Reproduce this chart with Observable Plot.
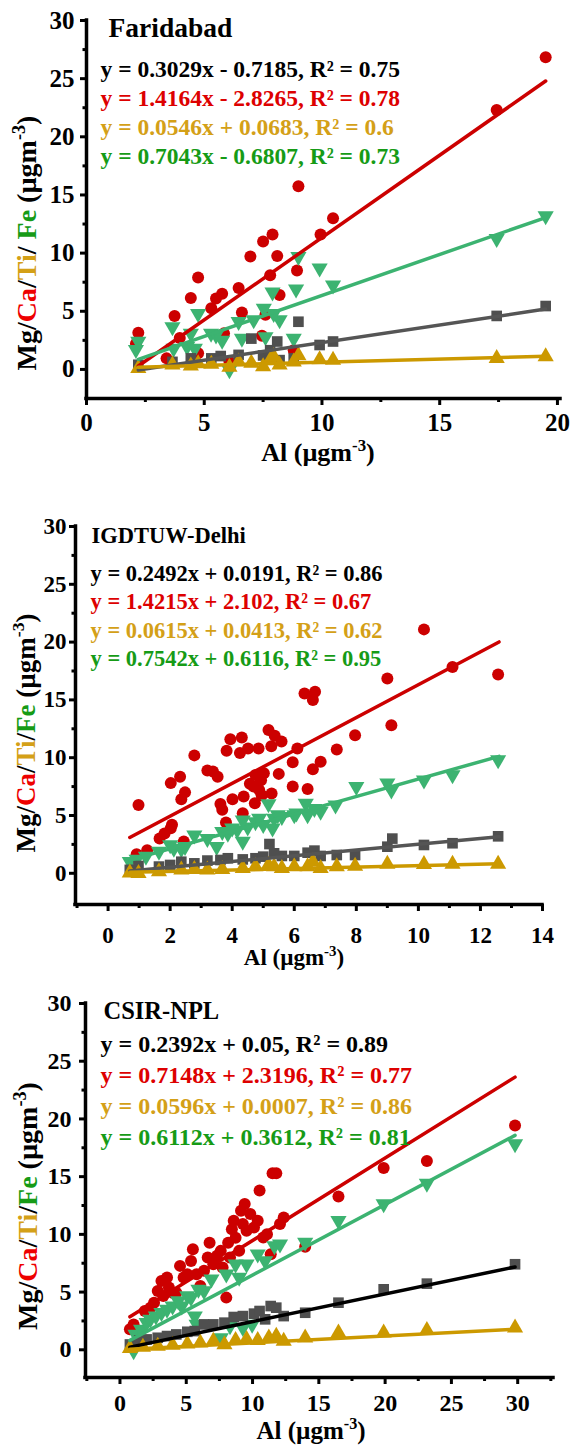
<!DOCTYPE html>
<html><head><meta charset="utf-8">
<script src="https://cdn.jsdelivr.net/npm/d3@7"></script>
<script src="https://cdn.jsdelivr.net/npm/@observablehq/plot@0.6"></script>
<style>
body{margin:0;background:#fff;}
#chart svg{display:block;}
</style></head><body><div id="chart"></div>
<script>
// ---------- colours ----------
const markerColors = {Mg: "#4f4f4f", Ca: "#cc0000", Ti: "#cc9900", Fe: "#3cb371"};
const eqColors = ["#000000", "#dd0000", "#d4a017", "#169b16"];

// ---------- Faridabad ----------
const faridabadCa = [[2.2,3.15],[2.1,2.2],[3.4,0.95],[3.74,4.6],[3.96,2.7],[4.43,6.15],[4.74,7.9],[4.74,1.4],[5.3,5.25],[5.5,6.1],[5.76,6.5],[5.84,3.1],[6.07,0.65],[6.46,7.0],[6.6,4.9],[6.96,9.7],[7.5,11.0],[7.45,2.9],[7.8,8.1],[7.9,11.6],[7.6,4.7],[8.1,9.75],[8.2,6.4],[8.94,8.5],[8.8,1.65],[9.0,15.75],[9.94,11.6],[10.47,13.0],[17.42,22.3],[19.5,26.85]];
const faridabadFe = [[2.2,2.4],[2.1,1.7],[3.65,3.65],[3.7,1.8],[4.43,3.1],[4.27,1.95],[4.74,4.8],[4.6,1.8],[5.29,3.1],[5.5,2.95],[5.76,2.5],[6.07,-0.05],[6.46,4.1],[6.6,2.66],[7.1,4.25],[7.53,5.25],[7.6,2.8],[7.9,6.65],[8.2,4.25],[7.95,4.8],[8.8,2.66],[8.9,6.9],[9.0,9.7],[9.9,8.7],[10.47,7.25],[17.42,11.25],[19.5,13.2]];
const faridabadMg = [[2.2,0.4],[3.65,0.65],[4.43,0.95],[5.3,0.95],[5.7,1.15],[6.46,1.25],[7.0,2.65],[7.5,1.2],[7.8,1.65],[8.1,2.4],[8.2,0.8],[9.0,4.1],[8.8,0.95],[9.9,2.1],[10.47,2.4],[17.42,4.6],[19.5,5.45]];
const faridabadTi = [[2.2,0.1],[3.65,0.4],[4.43,0.3],[4.74,0.5],[5.3,0.45],[6.07,0.2],[6.46,0.65],[7.0,0.55],[7.5,0.25],[7.8,0.8],[7.95,1.1],[8.2,0.4],[8.8,0.65],[9.0,1.2],[9.9,0.85],[10.47,0.8],[17.42,0.95],[19.5,1.1]];
const faridabadSlopes = [0.3029, 1.4164, 0.0546, 0.7043];
const faridabadIntercepts = [-0.7185, -2.8265, 0.0683, -0.6807];
const faridabadFitRange = [2.2, 19.5];
const faridabadEquations = ["y = 0.3029x - 0.7185, R² = 0.75","y = 1.4164x - 2.8265, R² = 0.78","y = 0.0546x + 0.0683, R² = 0.6","y = 0.7043x - 0.6807, R² = 0.73"];

// ---------- IGDTUW-Delhi ----------
const delhiCa = [[0.98,5.9],[0.92,1.64],[1.26,2.0],[1.66,3.0],[1.82,3.45],[2.02,3.9],[2.06,4.2],[2.02,7.8],[2.32,8.35],[2.36,6.4],[2.48,7.0],[2.44,2.74],[2.78,10.2],[3.2,8.9],[3.38,8.8],[3.53,8.35],[3.62,6.0],[3.68,5.5],[3.8,4.4],[3.82,10.6],[3.94,11.6],[4.01,6.4],[4.25,10.4],[4.31,11.75],[4.34,5.2],[4.37,6.65],[4.51,10.8],[4.57,7.75],[4.69,7.5],[4.73,6.05],[4.75,8.5],[4.85,10.8],[4.87,7.2],[4.93,8.05],[5.02,8.65],[4.95,6.75],[5.17,12.4],[5.26,11.0],[5.27,6.9],[5.37,11.9],[5.5,8.6],[5.59,11.4],[5.95,7.5],[5.95,9.6],[6.1,10.8],[6.33,15.55],[6.43,7.3],[6.6,9.0],[6.6,15.0],[6.67,15.7],[6.85,9.65],[7.37,10.7],[7.96,11.95],[9.0,16.85],[9.13,12.8],[10.18,21.1],[11.1,17.85],[12.57,17.2]];
const delhiFe = [[0.7,1.0],[0.92,1.2],[1.22,1.45],[1.64,1.9],[2.0,2.45],[2.12,2.15],[2.36,2.1],[2.48,2.3],[2.78,3.3],[3.2,3.0],[3.5,2.3],[3.68,3.6],[3.86,3.45],[4.0,3.9],[4.16,3.75],[4.34,4.6],[4.34,2.75],[4.5,4.0],[4.75,4.45],[4.87,4.75],[5.0,4.2],[5.17,6.0],[5.3,3.9],[5.35,4.75],[5.47,5.05],[5.6,4.9],[6.0,5.05],[6.07,5.2],[6.37,6.05],[6.43,5.05],[6.65,5.6],[6.85,5.35],[7.33,5.9],[8.0,7.5],[9.0,7.8],[9.13,7.2],[10.18,8.05],[11.1,8.5],[12.57,9.8]];
const delhiMg = [[0.7,0.3],[0.98,0.63],[1.64,0.58],[2.0,0.72],[2.36,1.0],[2.78,0.86],[3.2,1.1],[3.62,1.15],[3.86,1.3],[4.34,1.2],[4.75,1.3],[5.0,1.44],[5.2,2.53],[5.35,1.73],[5.6,1.5],[6.0,1.5],[6.43,1.78],[6.65,1.96],[6.85,1.5],[7.37,1.58],[7.96,1.58],[9.0,2.3],[9.16,3.0],[10.18,2.45],[11.1,2.6],[12.57,3.2]];
const delhiTi = [[0.7,0.05],[0.98,0.0],[1.64,0.15],[2.36,0.3],[2.78,0.35],[3.2,0.3],[3.68,0.35],[4.34,0.43],[4.75,0.58],[5.17,0.72],[5.35,0.58],[5.6,0.43],[6.0,0.58],[6.43,0.58],[6.6,1.0],[6.85,0.43],[7.37,0.58],[7.96,0.63],[9.0,0.8],[10.18,0.78],[11.1,0.8],[12.57,0.8]];
const delhiSlopes = [0.2492, 1.4215, 0.0615, 0.7542];
const delhiIntercepts = [0.0191, 2.102, 0.0413, 0.6116];
const delhiFitRange = [0.7, 12.6];
const delhiEquations = ["y = 0.2492x + 0.0191, R² = 0.86","y = 1.4215x + 2.102, R² = 0.67","y = 0.0615x + 0.0413, R² = 0.62","y = 0.7542x + 0.6116, R² = 0.95"];

// ---------- CSIR-NPL ----------
const nplCa = [[0.75,1.77],[1.03,2.2],[1.87,3.36],[2.3,3.65],[2.57,4.08],[2.85,5.1],[3.13,5.97],[3.27,4.66],[3.55,6.26],[3.69,5.39],[3.97,4.95],[4.25,4.95],[4.53,7.27],[4.8,6.26],[5.08,6.55],[5.36,7.7],[5.5,8.72],[5.78,6.55],[6.06,5.53],[6.34,6.84],[6.62,8.0],[6.76,9.27],[7.04,7.42],[7.32,8.14],[7.6,8.57],[7.74,7.12],[8.02,4.52],[8.16,9.27],[8.3,8.0],[8.44,10.45],[8.58,11.18],[8.72,9.7],[8.99,8.57],[9.13,12.05],[9.27,10.89],[9.41,12.63],[9.55,10.31],[9.83,11.76],[10.11,10.6],[10.39,11.18],[10.53,13.79],[10.81,9.73],[11.09,10.02],[11.37,8.28],[11.51,15.29],[11.79,15.29],[12.07,10.89],[12.35,11.47],[13.97,8.92],[16.48,13.29],[19.89,15.75],[23.15,16.36],[29.8,19.43]];
const nplFe = [[1.03,-0.1],[1.17,1.33],[1.59,1.77],[2.01,2.35],[2.29,2.64],[2.71,2.92],[3.13,3.21],[3.55,3.5],[3.97,3.79],[4.39,4.23],[4.66,3.79],[5.08,4.66],[5.36,4.52],[5.64,2.92],[5.78,2.2],[5.92,5.24],[6.34,5.1],[6.9,6.11],[7.6,1.04],[8.02,6.55],[8.3,2.06],[8.72,7.41],[8.99,6.26],[9.27,1.91],[9.55,7.41],[9.97,2.2],[10.39,8.28],[10.95,7.7],[11.65,9.0],[12.07,9.15],[13.97,9.3],[16.48,11.18],[19.89,12.63],[23.15,14.42],[29.8,17.84]];
const nplMg = [[0.75,0.46],[1.45,0.81],[2.01,0.9],[2.85,1.04],[3.55,1.19],[4.25,1.33],[5.08,1.56],[5.64,1.62],[6.34,2.2],[7.04,2.2],[7.88,2.35],[8.58,2.84],[9.27,2.92],[10.11,3.13],[10.53,3.36],[10.95,2.64],[11.37,3.79],[11.79,3.65],[12.35,2.92],[13.97,3.21],[16.48,4.08],[19.89,5.24],[23.15,5.73],[29.8,7.41]];
const nplTi = [[0.75,0.12],[1.73,0.23],[2.85,0.32],[3.97,0.4],[5.08,0.52],[6.06,0.61],[7.04,0.75],[7.88,0.46],[8.72,0.81],[9.55,0.9],[10.39,0.81],[11.23,1.04],[11.79,1.19],[12.35,0.75],[13.97,1.04],[16.48,1.48],[19.89,1.48],[23.15,1.68],[29.8,1.91]];
const nplSlopes = [0.2392, 0.7148, 0.0596, 0.6112];
const nplIntercepts = [0.05, 2.3196, 0.0007, 0.3612];
const nplFitRange = [0.75, 29.8];
const nplEquations = ["y = 0.2392x + 0.05, R² = 0.89","y = 0.7148x + 2.3196, R² = 0.77","y = 0.0596x + 0.0007, R² = 0.86","y = 0.6112x + 0.3612, R² = 0.81"];

// ---------- ticks / labels ----------
const yTicks = [0, 5, 10, 15, 20, 25, 30];
const yMinorTicks = [2.5, 7.5, 12.5, 17.5, 22.5, 27.5];
const faridabadXTicks = [0, 5, 10, 15, 20];
const faridabadXMinor = [2.5, 7.5, 12.5, 17.5];
const delhiXTicks = [0, 2, 4, 6, 8, 10, 12, 14];
const delhiXMinor = [-1, 1, 3, 5, 7, 9, 11, 13];
const nplXTicks = [0, 5, 10, 15, 20, 25, 30];
const nplXMinor = [-2.5, 2.5, 7.5, 12.5, 17.5, 22.5, 27.5, 32.5];
const yLabelParts1 = [["Mg/", "#000"], ["Ca", "#ee0000"], ["/", "#000"], ["Ti", "#d4a017"], ["/ ", "#000"], ["Fe", "#169b16"], [" (µgm", "#000"], ["-3", "#000", true], [")", "#000"]];
const yLabelParts2 = [["Mg/", "#000"], ["Ca", "#ee0000"], ["/", "#000"], ["Ti", "#d4a017"], ["/", "#000"], ["Fe", "#169b16"], [" (µgm", "#000"], ["-3", "#000", true], [")", "#000"]];
const xLabelParts = [["Al (µgm", "#000"], ["-3", "#000", true], [")", "#000"]];

const lineColors = {Mg: "#555555", Ca: "#cc0000", Ti: "#cc9900", Fe: "#3cb371"};

const triangleDown = {
  draw(context, size) {
    const s3 = Math.sqrt(3);
    const y = -Math.sqrt(size / (s3 * 3));
    context.moveTo(0, -y * 2);
    context.lineTo(-s3 * y, y);
    context.lineTo(s3 * y, y);
    context.closePath();
  }
};

function appendRich(svg, parts, x, y, size, rotate) {
  const t = svg.append("text")
    .attr("transform", `translate(${x},${y})` + (rotate ? " rotate(-90)" : ""))
    .attr("text-anchor", "middle")
    .style("font-size", size + "px")
    .style("font-weight", "bold")
    .style("font-family", "'Liberation Serif', 'Times New Roman', serif");
  const shift = size * 0.4;
  let raised = false;
  parts.forEach(([txt, col, sup]) => {
    const ts = t.append("tspan").text(txt).attr("fill", col);
    if (sup) { ts.attr("dy", -shift).style("font-size", (size * 0.65) + "px"); raised = true; }
    else if (raised) { ts.attr("dy", shift); raised = false; }
  });
}

function makePanel(p) {
  const fit = [];
  ["Mg", "Ca", "Ti", "Fe"].forEach((k, i) => {
    p.fitRange.forEach(x => fit.push({k, x, y: p.slopes[i] * x + p.intercepts[i]}));
  });
  const gx = d => d[0], gy = d => d[1];
  const r = 6;
  const marks = [
    Plot.axisY({ticks: yTicks, tickSize: 6, tickPadding: p.yPad, strokeWidth: 3, fontSize: p.tickFont, label: null, tickFormat: d => d}),
    Plot.axisY({ticks: yMinorTicks, tickSize: 3.5, strokeWidth: 3, label: null, tickFormat: () => ""}),
    Plot.axisX({ticks: p.xTicks, tickSize: 7, tickPadding: p.xPad, strokeWidth: 3, fontSize: p.tickFont, label: null, tickFormat: d => d}),
    Plot.axisX({ticks: p.xMinor, tickSize: 4, strokeWidth: 3, label: null, tickFormat: () => ""}),
    Plot.dot(p.Ca, {x: gx, y: gy, r, fill: markerColors.Ca, symbol: "circle"}),
    Plot.dot(p.Fe, {x: gx, y: gy, r, fill: markerColors.Fe, symbol: triangleDown}),
    Plot.dot(p.Mg, {x: gx, y: gy, r, fill: markerColors.Mg, symbol: "square"}),
    Plot.dot(p.Ti, {x: gx, y: gy, r, fill: markerColors.Ti, symbol: "triangle"}),
    Plot.line(fit.filter(d => d.k === "Ca"), {x: "x", y: "y", stroke: lineColors.Ca, strokeWidth: 3.5}),
    Plot.line(fit.filter(d => d.k === "Fe"), {x: "x", y: "y", stroke: lineColors.Fe, strokeWidth: 3.5}),
    Plot.line(fit.filter(d => d.k === "Mg"), {x: "x", y: "y", stroke: p.mgLine, strokeWidth: 3.5}),
    Plot.line(fit.filter(d => d.k === "Ti"), {x: "x", y: "y", stroke: lineColors.Ti, strokeWidth: 3.5}),
    Plot.ruleY([p.yDomain[0]], {stroke: "#000", strokeWidth: 3.5, strokeLinecap: "square"}),
    Plot.ruleX([p.xDomain[0]], {y1: p.yDomain[0], y2: 30, stroke: "#000", strokeWidth: 3.5, strokeLinecap: "square"}),
    Plot.text([p.title], {text: d => d, frameAnchor: "top-left", dx: p.titleDx, dy: p.titleDy, lineAnchor: "bottom", textAnchor: "start", fontSize: p.titleFont, fill: "#000"}),
    ...p.equations.map((e, i) => Plot.text([e], {text: d => d, frameAnchor: "top-left", dx: p.eqDx, dy: p.eqDy + i * p.eqGap, lineAnchor: "bottom", textAnchor: "start", fontSize: p.eqFont, fill: eqColors[i]}))
  ];
  const chart = Plot.plot({
    width: 578,
    height: p.height,
    marginTop: p.m[0], marginRight: p.m[1], marginBottom: p.m[2], marginLeft: p.m[3],
    x: {domain: p.xDomain},
    y: {domain: p.yDomain},
    style: {fontFamily: "'Liberation Serif', 'Times New Roman', serif", fontWeight: "bold", fontSize: "22px", color: "#000", background: "#fff", overflow: "visible"},
    marks
  });
  const svg = d3.select(chart);
  appendRich(svg, p.yLabel, p.yLabelX, p.yLabelY, p.yLabelFont, true);
  appendRich(svg, xLabelParts, p.xLabelX, p.xLabelY, p.xLabelFont, false);
  return chart;
}

const panels = [
  {title: "Faridabad", Ca: faridabadCa, Fe: faridabadFe, Mg: faridabadMg, Ti: faridabadTi,
   slopes: faridabadSlopes, intercepts: faridabadIntercepts, fitRange: faridabadFitRange, equations: faridabadEquations,
   height: 480, m: [20, 18, 82, 86], xDomain: [0, 20.13], yDomain: [-2.5, 30],
   xTicks: faridabadXTicks, xMinor: faridabadXMinor, tickFont: 25, xPad: 8, yPad: 6,
   titleDx: 22, titleDy: 16, titleFont: 27.5, eqDx: 14, eqDy: 56, eqGap: 29.2, eqFont: 23.5,
   mgLine: "#555555", yLabel: yLabelParts1, yLabelX: 36, yLabelY: 243, yLabelFont: 28,
   xLabelX: 318, xLabelY: 461, xLabelFont: 26},
  {title: "IGDTUW-Delhi", Ca: delhiCa, Fe: delhiFe, Mg: delhiMg, Ti: delhiTi,
   slopes: delhiSlopes, intercepts: delhiIntercepts, fitRange: delhiFitRange, equations: delhiEquations,
   height: 490, m: [46, 36, 66, 75], xDomain: [-1.05, 14], yDomain: [-2.7, 30],
   xTicks: delhiXTicks, xMinor: delhiXMinor, tickFont: 23, xPad: 15, yPad: 3,
   titleDx: 16, titleDy: 16, titleFont: 22.5, eqDx: 15, eqDy: 54, eqGap: 28.5, eqFont: 22.5,
   mgLine: "#555555", yLabel: yLabelParts2, yLabelX: 35, yLabelY: 253, yLabelFont: 27,
   xLabelX: 294, xLabelY: 485, xLabelFont: 23},
  {title: "CSIR-NPL", Ca: nplCa, Fe: nplFe, Mg: nplMg, Ti: nplTi,
   slopes: nplSlopes, intercepts: nplIntercepts, fitRange: nplFitRange, equations: nplEquations,
   height: 478, m: [33, 25, 71, 85], xDomain: [-2.6, 32.7], yDomain: [-2.4, 30],
   xTicks: nplXTicks, xMinor: nplXMinor, tickFont: 24, xPad: 9, yPad: 8,
   titleDx: 18, titleDy: 15, titleFont: 24.5, eqDx: 15, eqDy: 48, eqGap: 31, eqFont: 24,
   mgLine: "#000000", yLabel: yLabelParts2, yLabelX: 37, yLabelY: 236, yLabelFont: 28,
   xLabelX: 311, xLabelY: 469, xLabelFont: 25}
];

const root = document.getElementById("chart");
panels.forEach(p => root.appendChild(makePanel(p)));
</script></body></html>
